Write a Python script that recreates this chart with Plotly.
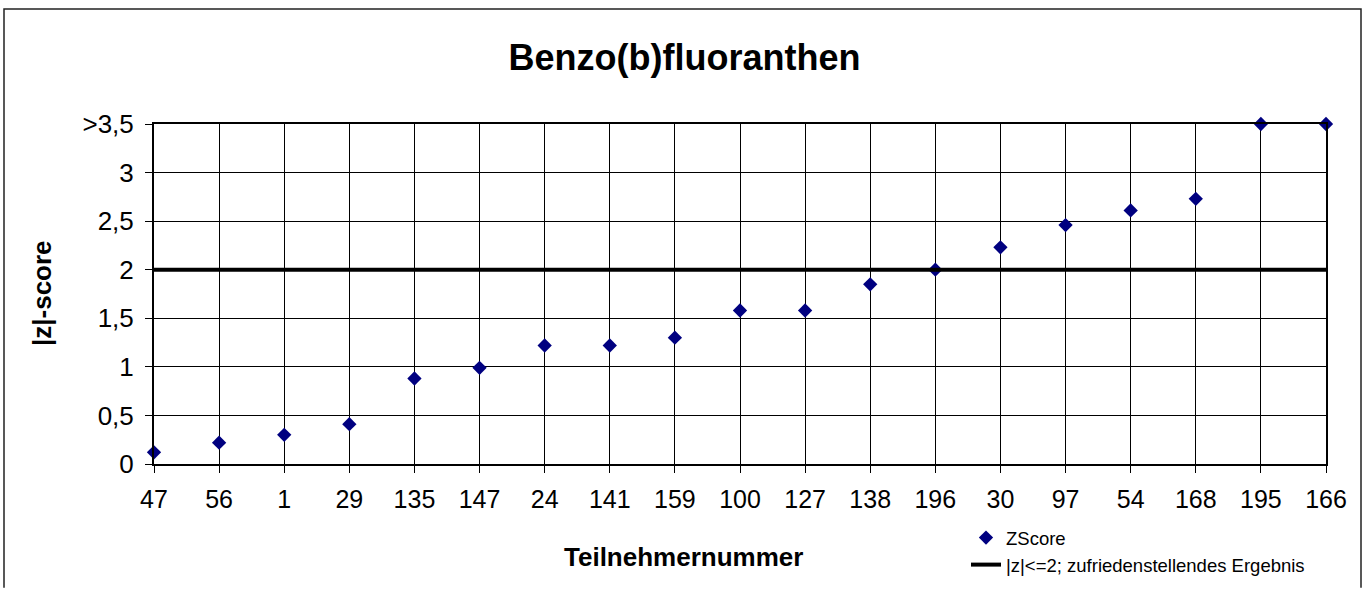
import plotly.graph_objects as go

participants = ["47", "56", "1", "29", "135", "147", "24", "141", "159", "100",
                "127", "138", "196", "30", "97", "54", "168", "195", "166"]
zscores = [0.12, 0.22, 0.30, 0.41, 0.88, 0.99, 1.22, 1.22, 1.30, 1.58,
           1.58, 1.85, 2.00, 2.23, 2.46, 2.61, 2.73, 3.5, 3.5]
limit_value = [2] * len(participants)
ytick_vals = [0, 0.5, 1, 1.5, 2, 2.5, 3, 3.5]
ytick_text = ["0", "0,5", "1", "1,5", "2", "2,5", "3", ">3,5"]

FONT = "Arial, Liberation Sans, sans-serif"
W, H = 1369, 596
L, R, T, B = 154, 43, 124, 126
pw, ph = W - L - R, H - T - B

def px(x):
    return (x - L) / pw

def py(y):
    return (H - B - y) / ph

fig = go.Figure()
fig.add_trace(go.Scatter(
    x=participants, y=zscores, mode="markers", name="ZScore",
    marker=dict(symbol="diamond", size=11, color="#000080"),
    cliponaxis=False, legendgroup="a"))
fig.add_trace(go.Scatter(
    x=participants, y=limit_value, mode="lines",
    name="|z|<=2; zufriedenstellendes Ergebnis",
    line=dict(color="black", width=4), cliponaxis=False, legendgroup="b"))

frame_path = "M {x0},{yb} L {x0},{yt} L {x1},{yt} L {x1},{yb}".format(
    x0=px(4), x1=px(1361), yb=py(596), yt=py(7))

fig.update_layout(
    width=W, height=H,
    margin=dict(l=L, r=R, t=T, b=B),
    paper_bgcolor="white", plot_bgcolor="white",
    font=dict(family=FONT, color="black", size=24),
    title=dict(text="<b>Benzo(b)fluoranthen</b>", x=0.5, xref="container",
               xanchor="center", y=1 - 57 / H, yref="container", yanchor="middle",
               font=dict(size=36, family=FONT, color="black")),
    showlegend=True,
    legend=dict(x=px(966), y=py(526), xanchor="left", yanchor="top",
                font=dict(size=18.5, family=FONT), bgcolor="rgba(0,0,0,0)",
                tracegroupgap=0, traceorder="grouped"),
    xaxis=dict(type="category", range=[0, len(participants) - 1],
               showgrid=True, gridcolor="black", gridwidth=1,
               showline=True, linecolor="black", linewidth=2, mirror=True,
               ticks="outside", ticklen=7, tickcolor="black", tickwidth=1,
               ticklabelstandoff=5,
               tickfont=dict(size=25, family=FONT), zeroline=False),
    yaxis=dict(range=[0, 3.5], tickvals=ytick_vals, ticktext=ytick_text,
               showgrid=True, gridcolor="black", gridwidth=1,
               showline=True, linecolor="black", linewidth=2, mirror=True,
               ticks="outside", ticklen=7, tickcolor="black", tickwidth=1,
               ticklabelstandoff=6,
               tickfont=dict(size=26, family=FONT), zeroline=False),
    annotations=[
        dict(text="<b>Teilnehmernummer</b>", x=px(683), y=py(565), xref="paper",
             yref="paper", showarrow=False, xanchor="center", yanchor="middle",
             font=dict(size=26, family=FONT)),
        dict(text="<b>|z|-score</b>", x=px(42), y=py(296), xref="paper",
             yref="paper", showarrow=False, xanchor="center", yanchor="middle",
             textangle=-90, font=dict(size=26, family=FONT)),
    ],
    shapes=[dict(type="path", xref="paper", yref="paper", path=frame_path,
                 line=dict(color="#222222", width=1.5), layer="below")],
)

fig.write_html(
    "out.html",
    config={"displayModeBar": False},
    post_script="document.body.style.margin='0';document.body.style.overflow='hidden';",
)
